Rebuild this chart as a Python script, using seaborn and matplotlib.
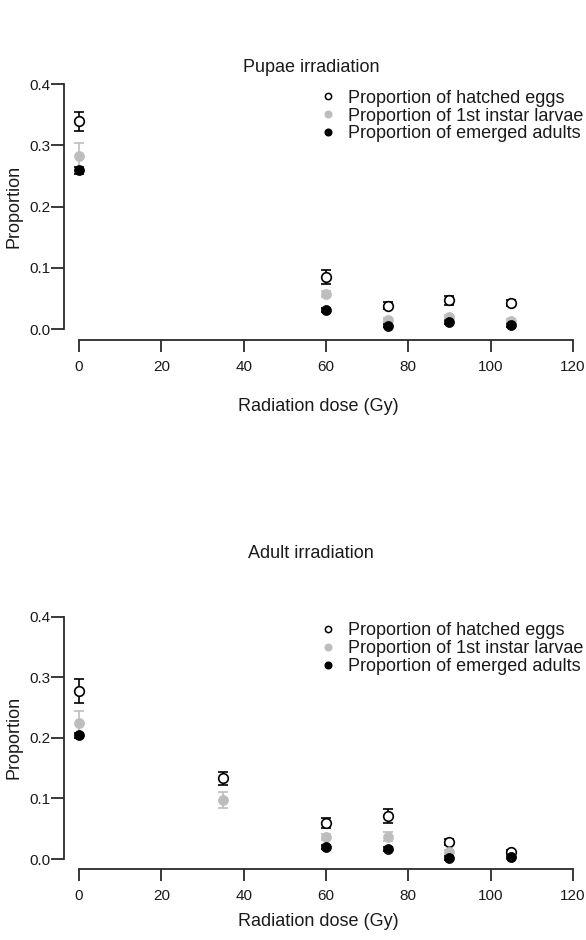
import numpy as np
import pandas as pd
import seaborn as sns
import matplotlib.pyplot as plt
from matplotlib.lines import Line2D

# dados
dose_pupae = [0, 60, 75, 90, 105]
pupae_hatched = [0.339, 0.085, 0.0385, 0.047, 0.043]
pupae_hatched_err = [0.015, 0.011, 0.006, 0.007, 0.005]
pupae_larvae = [0.282, 0.058, 0.015, 0.0205, 0.014]
pupae_larvae_err = [0.022, 0.005, 0.003, 0.003, 0.003]
pupae_adults = [0.259, 0.031, 0.006, 0.012, 0.007]
pupae_adults_err = [0.006, 0.003, 0.003, 0.003, 0.003]

dose_adult = [0, 35, 60, 75, 90, 105]
adult_hatched = [0.277, 0.133, 0.060, 0.071, 0.0275, 0.012]
adult_hatched_err = [0.02, 0.011, 0.008, 0.011, 0.005, 0.003]
adult_larvae = [0.224, 0.0975, 0.037, 0.037, 0.012, 0.004]
adult_larvae_err = [0.02, 0.0125, 0.005, 0.008, 0.003, 0.002]
adult_adults = [0.204, np.nan, 0.020, 0.0165, 0.002, 0.003]
adult_adults_err = [0.004, np.nan, 0.003, 0.003, 0.003, 0.003]

labels = ['Proportion of hatched eggs', 'Proportion of 1st instar larvae',
          'Proportion of emerged adults']
titles = ['Pupae irradiation', 'Adult irradiation']
xticks = [0, 20, 40, 60, 80, 100, 120]
yticks = [0.0, 0.1, 0.2, 0.3, 0.4]

grey = '#bdbdbd'
ink = '#1a1a1a'

sns.set_style('ticks')
plt.rcParams['font.family'] = ['Liberation Sans', 'DejaVu Sans']
plt.rcParams['text.color'] = ink
plt.rcParams['axes.labelcolor'] = ink
plt.rcParams['xtick.color'] = '#2a2a2a'
plt.rcParams['ytick.color'] = '#2a2a2a'
plt.rcParams['xtick.labelcolor'] = ink
plt.rcParams['ytick.labelcolor'] = ink

W, H = 586, 940
fig = plt.figure(figsize=(W / 100, H / 100), dpi=100)
# posicoes em pixels: eixo y em x=64, x=120 em 573, linha do eixo x, y=0.4
ax1 = fig.add_axes([64 / W, (H - 340) / H, (573 - 64) / W, (340 - 84) / H])
ax2 = fig.add_axes([64 / W, (H - 869) / H, (573 - 64) / W, (869 - 616.7) / H])


def painel(ax, dose, hatched, h_err, larvae, l_err, adults, a_err, ybot,
           title, title_pad, xlab_pad, leg_y):
    df = pd.DataFrame({'dose': dose, 'hatched': hatched, 'larvae': larvae,
                       'adults': adults})
    ax.errorbar(dose, hatched, yerr=h_err, fmt='none', ecolor='black',
                elinewidth=1.2, capsize=3.3, capthick=1.2, clip_on=False)
    sns.scatterplot(data=df, x='dose', y='hatched', ax=ax, s=48,
                    color='white', edgecolor='black', linewidth=1.2,
                    clip_on=False, zorder=3)
    ax.errorbar(dose, larvae, yerr=l_err, fmt='none', ecolor=grey,
                elinewidth=1.2, capsize=3.3, capthick=1.2, clip_on=False)
    sns.scatterplot(data=df, x='dose', y='larvae', ax=ax,
                    s=52, color=grey, edgecolor=grey, linewidth=0.5,
                    clip_on=False, zorder=4)
    ax.errorbar(dose, adults, yerr=a_err, fmt='none', ecolor='black',
                elinewidth=1.2, capsize=3.3, capthick=1.2, clip_on=False)
    sns.scatterplot(data=df, x='dose', y='adults', ax=ax, s=52,
                    color='black', edgecolor='black', linewidth=0.5,
                    clip_on=False, zorder=5)

    ax.set_xlim(-3.64, 120)
    ax.set_ylim(ybot, 0.4)
    ax.set_xticks(xticks)
    ax.set_yticks(yticks)
    ax.set_yticklabels(['%.1f' % v for v in yticks])
    sns.despine(ax=ax)
    ax.spines['left'].set_bounds(0, 0.4)
    ax.spines['bottom'].set_bounds(0, 120)
    for s in ['left', 'bottom']:
        ax.spines[s].set_linewidth(1.3)
        ax.spines[s].set_color('#2a2a2a')
    ax.tick_params(axis='y', length=9.4, width=1.3, pad=0.5, labelsize=11)
    ax.tick_params(axis='x', length=8.6, width=1.3, pad=6, labelsize=11)
    ax.set_xlabel('Radiation dose (Gy)', labelpad=xlab_pad, fontsize=13)
    ax.set_ylabel('Proportion', fontsize=13)
    ax.yaxis.set_label_coords(-0.081, (0.2 - ybot) / (0.4 - ybot))
    ax.set_title(title, pad=title_pad, x=0.485, fontsize=13)

    handles = [
        Line2D([], [], marker='o', ls='none', markersize=4.5,
               markerfacecolor='white', markeredgecolor='black', markeredgewidth=1.1),
        Line2D([], [], marker='o', ls='none', markersize=4.8,
               markerfacecolor=grey, markeredgecolor=grey),
        Line2D([], [], marker='o', ls='none', markersize=4.8,
               markerfacecolor='black', markeredgecolor='black'),
    ]
    ax.legend(handles, labels, loc='upper left', bbox_to_anchor=(0.501, leg_y),
              frameon=False, handlelength=1.0, handletextpad=0.6,
              borderpad=0, borderaxespad=0, labelspacing=0.05,
              fontsize=13)


painel(ax1, dose_pupae, pupae_hatched, pupae_hatched_err, pupae_larvae,
       pupae_larvae_err, pupae_adults, pupae_adults_err, -0.01745, titles[0],
       8.6, 17, 0.978)
painel(ax2, dose_adult, adult_hatched, adult_hatched_err, adult_larvae,
       adult_larvae_err, adult_adults, adult_adults_err, -0.0165, titles[1],
       42, 7, 0.978)

fig.savefig('out.png', dpi=100)
